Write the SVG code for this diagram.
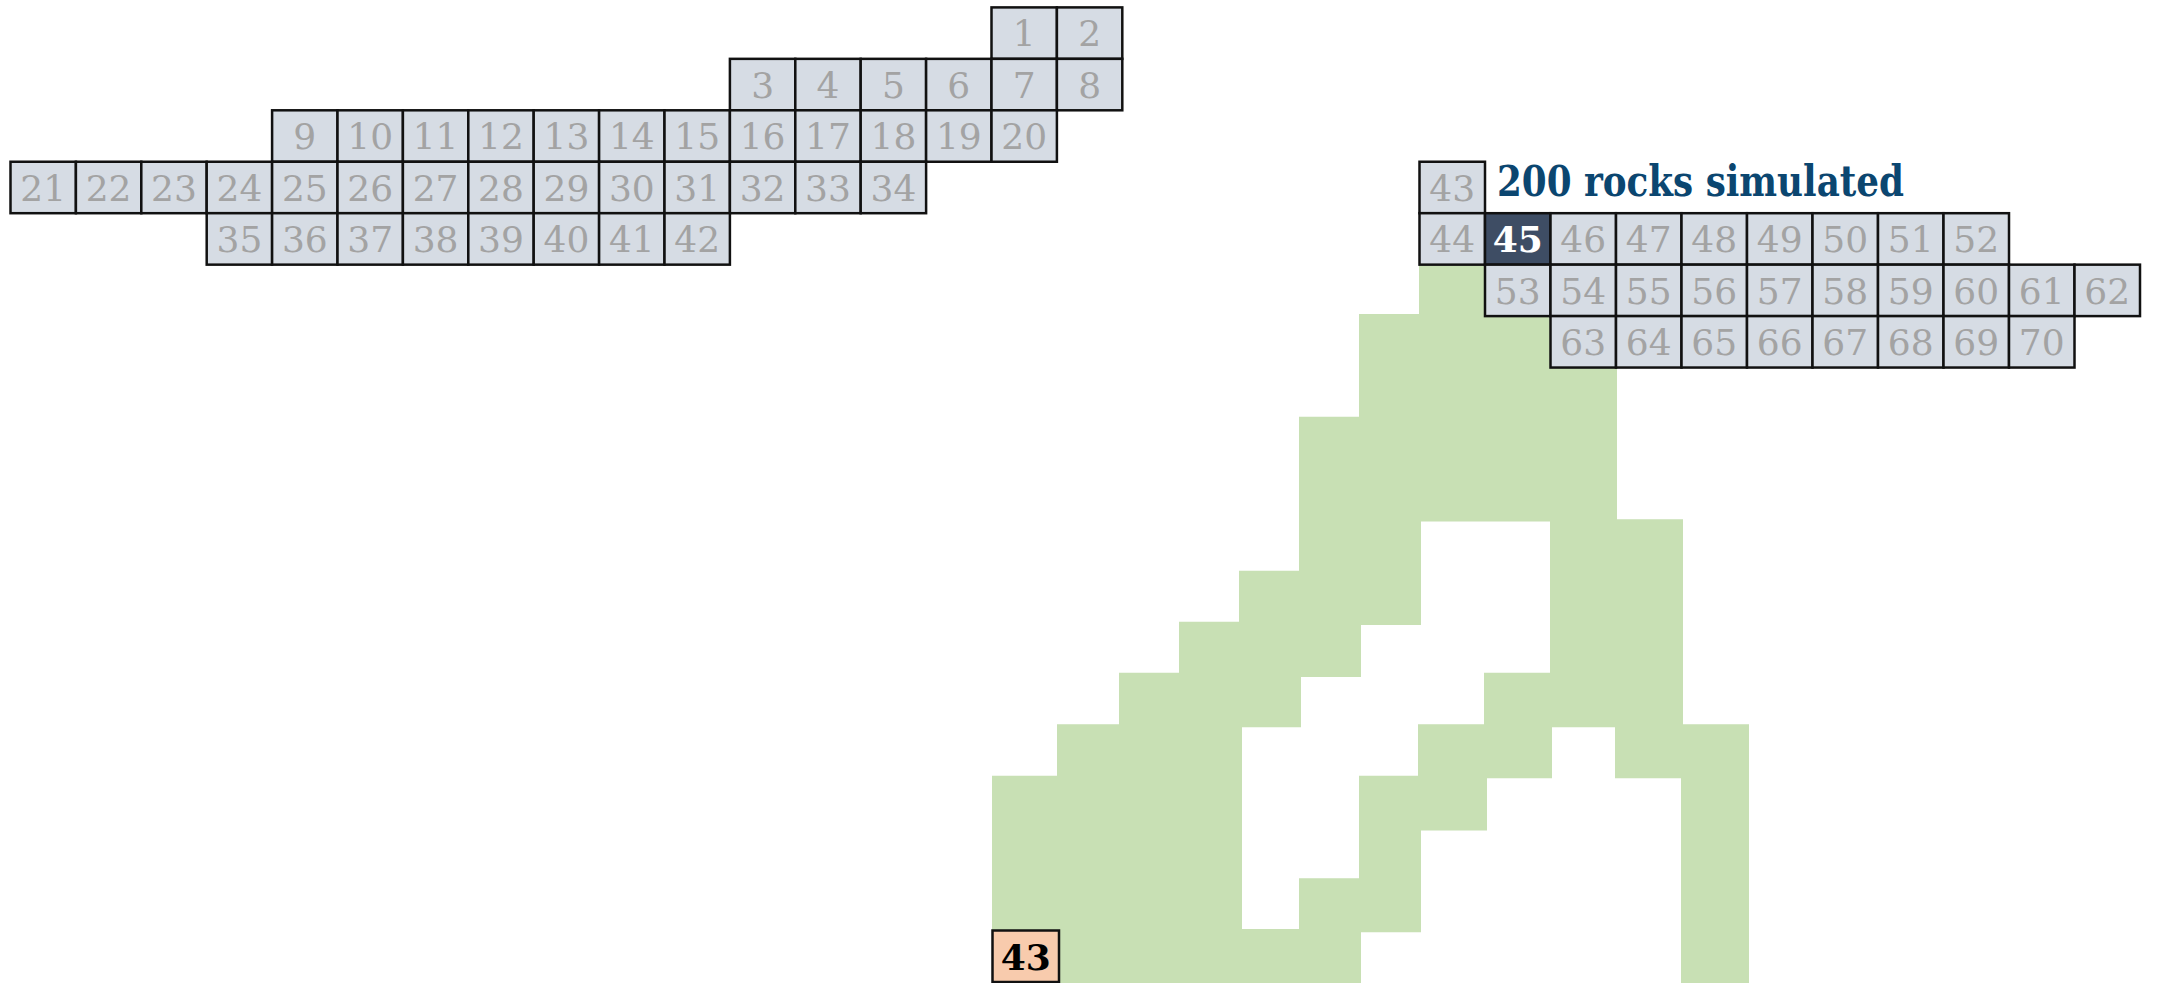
<svg xmlns="http://www.w3.org/2000/svg" width="2159" height="983" viewBox="0 0 2159 983">
<style>
.c rect{fill:#d6dce4;stroke:#111;stroke-width:2.5}
.c text{fill:#a3a3a3;font-family:"DejaVu Serif","Liberation Serif",serif;font-size:36px;text-anchor:middle}
.hl rect{fill:#3e4d64}
.hl text{fill:#ffffff;font-weight:bold}
.pk rect{fill:#f8cbad}
.pk text{fill:#000000;font-weight:bold}
.lbl{fill:#0b4670;font-family:"DejaVu Serif","Liberation Serif",serif;font-size:42px;font-weight:bold}
</style>
<rect width="2159" height="983" fill="#ffffff"/>
<g id="tower">
<path fill="#c8e0b4" d="M1419 264H1485V316H1419Z M1359 314H1550.5V368H1359Z M1359 366H1617V418H1359Z M1299 416.7H1617V521.5H1299Z M1299 520H1421V572H1299Z M1239 570.7H1421V625H1239Z M1550 519.3H1683V727.3H1550Z M1179 621.7H1361V677H1179Z M1484 672.7H1683V727.3H1484Z M1119 672.7H1301V727.3H1119Z M1057 724.3H1242V983H1057Z M992 775.7H1242V983H992Z M1418 724.3H1552V778.3H1418Z M1615 724.3H1749V778.3H1615Z M1681 724.3H1749V983H1681Z M1359 775.7H1487V830.5H1359Z M1359 829H1421V932.3H1359Z M1299 878.3H1421V932.3H1299Z M992 929H1361V983H992Z"/>
</g>
<g id="cell-1" class="c"><rect x="991.5" y="7.4" width="65.4" height="51.45"/><text x="1024.2" y="46.4">1</text></g>
<g id="cell-2" class="c"><rect x="1056.9" y="7.4" width="65.4" height="51.45"/><text x="1089.6" y="46.4">2</text></g>
<g id="cell-3" class="c"><rect x="729.9" y="58.85" width="65.4" height="51.45"/><text x="762.6" y="97.85">3</text></g>
<g id="cell-4" class="c"><rect x="795.3" y="58.85" width="65.4" height="51.45"/><text x="828" y="97.85">4</text></g>
<g id="cell-5" class="c"><rect x="860.7" y="58.85" width="65.4" height="51.45"/><text x="893.4" y="97.85">5</text></g>
<g id="cell-6" class="c"><rect x="926.1" y="58.85" width="65.4" height="51.45"/><text x="958.8" y="97.85">6</text></g>
<g id="cell-7" class="c"><rect x="991.5" y="58.85" width="65.4" height="51.45"/><text x="1024.2" y="97.85">7</text></g>
<g id="cell-8" class="c"><rect x="1056.9" y="58.85" width="65.4" height="51.45"/><text x="1089.6" y="97.85">8</text></g>
<g id="cell-9" class="c"><rect x="272.1" y="110.3" width="65.4" height="51.45"/><text x="304.8" y="149.3">9</text></g>
<g id="cell-10" class="c"><rect x="337.5" y="110.3" width="65.4" height="51.45"/><text x="370.2" y="149.3">10</text></g>
<g id="cell-11" class="c"><rect x="402.9" y="110.3" width="65.4" height="51.45"/><text x="435.6" y="149.3">11</text></g>
<g id="cell-12" class="c"><rect x="468.3" y="110.3" width="65.4" height="51.45"/><text x="501" y="149.3">12</text></g>
<g id="cell-13" class="c"><rect x="533.7" y="110.3" width="65.4" height="51.45"/><text x="566.4" y="149.3">13</text></g>
<g id="cell-14" class="c"><rect x="599.1" y="110.3" width="65.4" height="51.45"/><text x="631.8" y="149.3">14</text></g>
<g id="cell-15" class="c"><rect x="664.5" y="110.3" width="65.4" height="51.45"/><text x="697.2" y="149.3">15</text></g>
<g id="cell-16" class="c"><rect x="729.9" y="110.3" width="65.4" height="51.45"/><text x="762.6" y="149.3">16</text></g>
<g id="cell-17" class="c"><rect x="795.3" y="110.3" width="65.4" height="51.45"/><text x="828" y="149.3">17</text></g>
<g id="cell-18" class="c"><rect x="860.7" y="110.3" width="65.4" height="51.45"/><text x="893.4" y="149.3">18</text></g>
<g id="cell-19" class="c"><rect x="926.1" y="110.3" width="65.4" height="51.45"/><text x="958.8" y="149.3">19</text></g>
<g id="cell-20" class="c"><rect x="991.5" y="110.3" width="65.4" height="51.45"/><text x="1024.2" y="149.3">20</text></g>
<g id="cell-21" class="c"><rect x="10.5" y="161.75" width="65.4" height="51.45"/><text x="43.2" y="200.75">21</text></g>
<g id="cell-22" class="c"><rect x="75.9" y="161.75" width="65.4" height="51.45"/><text x="108.6" y="200.75">22</text></g>
<g id="cell-23" class="c"><rect x="141.3" y="161.75" width="65.4" height="51.45"/><text x="174" y="200.75">23</text></g>
<g id="cell-24" class="c"><rect x="206.7" y="161.75" width="65.4" height="51.45"/><text x="239.4" y="200.75">24</text></g>
<g id="cell-25" class="c"><rect x="272.1" y="161.75" width="65.4" height="51.45"/><text x="304.8" y="200.75">25</text></g>
<g id="cell-26" class="c"><rect x="337.5" y="161.75" width="65.4" height="51.45"/><text x="370.2" y="200.75">26</text></g>
<g id="cell-27" class="c"><rect x="402.9" y="161.75" width="65.4" height="51.45"/><text x="435.6" y="200.75">27</text></g>
<g id="cell-28" class="c"><rect x="468.3" y="161.75" width="65.4" height="51.45"/><text x="501" y="200.75">28</text></g>
<g id="cell-29" class="c"><rect x="533.7" y="161.75" width="65.4" height="51.45"/><text x="566.4" y="200.75">29</text></g>
<g id="cell-30" class="c"><rect x="599.1" y="161.75" width="65.4" height="51.45"/><text x="631.8" y="200.75">30</text></g>
<g id="cell-31" class="c"><rect x="664.5" y="161.75" width="65.4" height="51.45"/><text x="697.2" y="200.75">31</text></g>
<g id="cell-32" class="c"><rect x="729.9" y="161.75" width="65.4" height="51.45"/><text x="762.6" y="200.75">32</text></g>
<g id="cell-33" class="c"><rect x="795.3" y="161.75" width="65.4" height="51.45"/><text x="828" y="200.75">33</text></g>
<g id="cell-34" class="c"><rect x="860.7" y="161.75" width="65.4" height="51.45"/><text x="893.4" y="200.75">34</text></g>
<g id="cell-35" class="c"><rect x="206.7" y="213.2" width="65.4" height="51.45"/><text x="239.4" y="252.2">35</text></g>
<g id="cell-36" class="c"><rect x="272.1" y="213.2" width="65.4" height="51.45"/><text x="304.8" y="252.2">36</text></g>
<g id="cell-37" class="c"><rect x="337.5" y="213.2" width="65.4" height="51.45"/><text x="370.2" y="252.2">37</text></g>
<g id="cell-38" class="c"><rect x="402.9" y="213.2" width="65.4" height="51.45"/><text x="435.6" y="252.2">38</text></g>
<g id="cell-39" class="c"><rect x="468.3" y="213.2" width="65.4" height="51.45"/><text x="501" y="252.2">39</text></g>
<g id="cell-40" class="c"><rect x="533.7" y="213.2" width="65.4" height="51.45"/><text x="566.4" y="252.2">40</text></g>
<g id="cell-41" class="c"><rect x="599.1" y="213.2" width="65.4" height="51.45"/><text x="631.8" y="252.2">41</text></g>
<g id="cell-42" class="c"><rect x="664.5" y="213.2" width="65.4" height="51.45"/><text x="697.2" y="252.2">42</text></g>
<g id="cell-43-top" class="c"><rect x="1419.5" y="161.75" width="65.5" height="51.45"/><text x="1452.25" y="200.75">43</text></g>
<g id="label"><text class="lbl" x="1497" y="196" textLength="407" lengthAdjust="spacingAndGlyphs">200 rocks simulated</text></g>
<g id="cell-44" class="c"><rect x="1419.5" y="213.2" width="65.5" height="51.45"/><text x="1452.25" y="252.2">44</text></g>
<g id="cell-45" class="c hl"><rect x="1485" y="213.2" width="65.5" height="51.45"/><text x="1517.75" y="252.2">45</text></g>
<g id="cell-46" class="c"><rect x="1550.5" y="213.2" width="65.5" height="51.45"/><text x="1583.25" y="252.2">46</text></g>
<g id="cell-47" class="c"><rect x="1616" y="213.2" width="65.5" height="51.45"/><text x="1648.75" y="252.2">47</text></g>
<g id="cell-48" class="c"><rect x="1681.5" y="213.2" width="65.5" height="51.45"/><text x="1714.25" y="252.2">48</text></g>
<g id="cell-49" class="c"><rect x="1747" y="213.2" width="65.5" height="51.45"/><text x="1779.75" y="252.2">49</text></g>
<g id="cell-50" class="c"><rect x="1812.5" y="213.2" width="65.5" height="51.45"/><text x="1845.25" y="252.2">50</text></g>
<g id="cell-51" class="c"><rect x="1878" y="213.2" width="65.5" height="51.45"/><text x="1910.75" y="252.2">51</text></g>
<g id="cell-52" class="c"><rect x="1943.5" y="213.2" width="65.5" height="51.45"/><text x="1976.25" y="252.2">52</text></g>
<g id="cell-53" class="c"><rect x="1485" y="264.65" width="65.5" height="51.45"/><text x="1517.75" y="303.65">53</text></g>
<g id="cell-54" class="c"><rect x="1550.5" y="264.65" width="65.5" height="51.45"/><text x="1583.25" y="303.65">54</text></g>
<g id="cell-55" class="c"><rect x="1616" y="264.65" width="65.5" height="51.45"/><text x="1648.75" y="303.65">55</text></g>
<g id="cell-56" class="c"><rect x="1681.5" y="264.65" width="65.5" height="51.45"/><text x="1714.25" y="303.65">56</text></g>
<g id="cell-57" class="c"><rect x="1747" y="264.65" width="65.5" height="51.45"/><text x="1779.75" y="303.65">57</text></g>
<g id="cell-58" class="c"><rect x="1812.5" y="264.65" width="65.5" height="51.45"/><text x="1845.25" y="303.65">58</text></g>
<g id="cell-59" class="c"><rect x="1878" y="264.65" width="65.5" height="51.45"/><text x="1910.75" y="303.65">59</text></g>
<g id="cell-60" class="c"><rect x="1943.5" y="264.65" width="65.5" height="51.45"/><text x="1976.25" y="303.65">60</text></g>
<g id="cell-61" class="c"><rect x="2009" y="264.65" width="65.5" height="51.45"/><text x="2041.75" y="303.65">61</text></g>
<g id="cell-62" class="c"><rect x="2074.5" y="264.65" width="65.5" height="51.45"/><text x="2107.25" y="303.65">62</text></g>
<g id="cell-63" class="c"><rect x="1550.5" y="316.1" width="65.5" height="51.45"/><text x="1583.25" y="355.1">63</text></g>
<g id="cell-64" class="c"><rect x="1616" y="316.1" width="65.5" height="51.45"/><text x="1648.75" y="355.1">64</text></g>
<g id="cell-65" class="c"><rect x="1681.5" y="316.1" width="65.5" height="51.45"/><text x="1714.25" y="355.1">65</text></g>
<g id="cell-66" class="c"><rect x="1747" y="316.1" width="65.5" height="51.45"/><text x="1779.75" y="355.1">66</text></g>
<g id="cell-67" class="c"><rect x="1812.5" y="316.1" width="65.5" height="51.45"/><text x="1845.25" y="355.1">67</text></g>
<g id="cell-68" class="c"><rect x="1878" y="316.1" width="65.5" height="51.45"/><text x="1910.75" y="355.1">68</text></g>
<g id="cell-69" class="c"><rect x="1943.5" y="316.1" width="65.5" height="51.45"/><text x="1976.25" y="355.1">69</text></g>
<g id="cell-70" class="c"><rect x="2009" y="316.1" width="65.5" height="51.45"/><text x="2041.75" y="355.1">70</text></g>
<g id="cell-43-bottom" class="c pk"><rect x="992.5" y="930.5" width="66.5" height="51.5"/><text x="1025.75" y="969.5">43</text></g>
</svg>
